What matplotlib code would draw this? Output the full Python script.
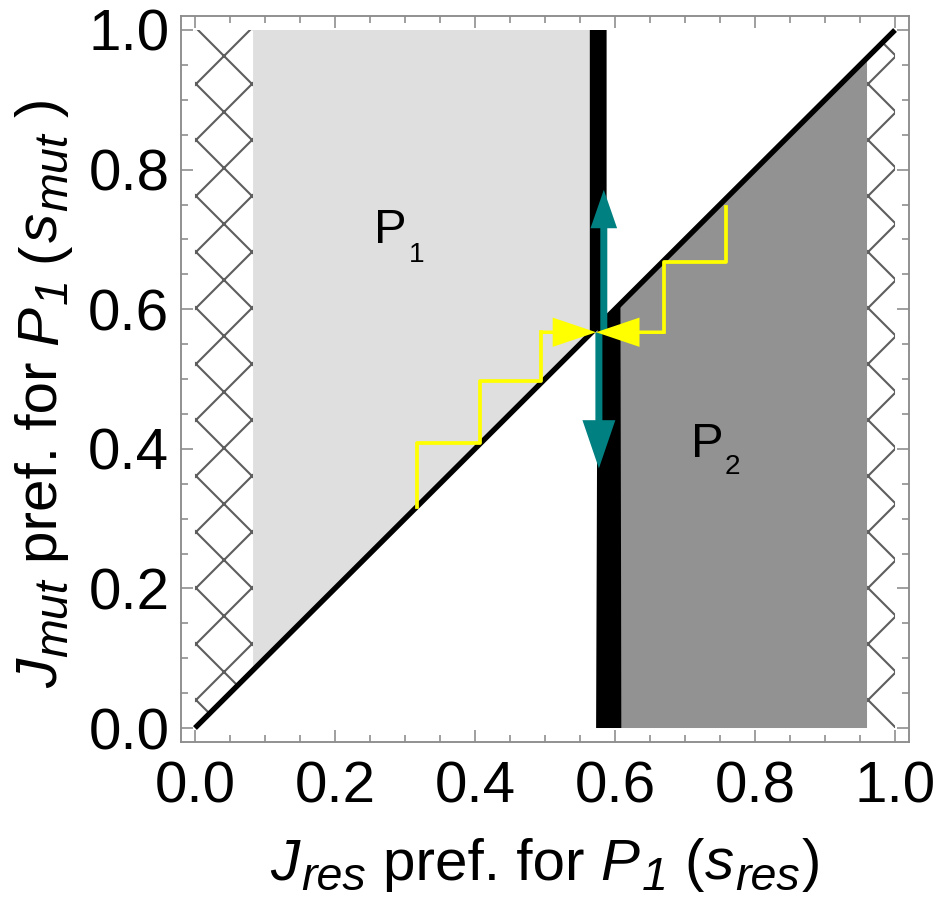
import matplotlib
matplotlib.use("Agg")
import matplotlib.pyplot as plt
import numpy as np

plt.rcParams['font.family'] = ['Liberation Sans', 'DejaVu Sans']
plt.rcParams['hatch.linewidth'] = 0.9

# region boundaries (s_res values)
hatch_left_edge = 0.083
p1_right_edge = 0.564
band_top = [0.564, 0.588]       # black band above diagonal
band_bottom = [0.575, 0.608]    # black band below diagonal
hatch_right_edge = 0.96

# singular point and iteration steps
s_star = 0.573
left_steps_x = [0.317, 0.317, 0.407, 0.407, 0.495, 0.495]
left_steps_y = [0.317, 0.408, 0.408, 0.497, 0.497, 0.567]
right_steps_x = [0.759, 0.759, 0.670, 0.670]
right_steps_y = [0.746, 0.667, 0.667, 0.567]

# evolutionary arrows (teal): (x, y_start, y_tip)
arrow_up = (0.584, 0.567, 0.771)
arrow_down = (0.577, 0.567, 0.372)

tick_vals = [0.0, 0.2, 0.4, 0.6, 0.8, 1.0]
tick_labels = ['0.0', '0.2', '0.4', '0.6', '0.8', '1.0']

light = '#dfdfdf'
dark = '#929292'
teal = '#008080'
frame_col = '#8c8c8c'
hatch_col = '#5e5e5e'

W, H = 942, 901
dpi = 168
fig = plt.figure(figsize=(W / dpi, H / dpi), dpi=dpi)
ax = fig.add_axes([0.1921, 0.1765, 0.7729, 0.8057])


def rich_text(x0, y0, parts, size, rotation=0):
    # parts: (text, italic, scale, drop, gap) -- drop and gap in em units
    renderer = fig.canvas.get_renderer()
    widths = []
    for s, it, sc, drop, gap in parts:
        t = fig.text(0, 0, s, fontsize=size * sc, style='italic' if it else 'normal')
        widths.append(t.get_window_extent(renderer).width)
        t.remove()
    em = size * dpi / 72
    total = sum(widths) + sum(p[4] for p in parts) * em
    ang = np.radians(rotation)
    ux, uy = np.cos(ang), np.sin(ang)
    vx, vy = np.sin(ang), -np.cos(ang)
    pos = -total / 2
    for (s, it, sc, drop, gap), w in zip(parts, widths):
        pos += gap * em
        dx = pos * ux + drop * em * vx
        dy = pos * uy + drop * em * vy
        fig.text((x0 + dx) / W, (y0 + dy) / H, s, fontsize=size * sc,
                 style='italic' if it else 'normal', rotation=rotation,
                 rotation_mode='anchor', ha='left', va='baseline')
        pos += w


# hatched (excluded) regions
ax.fill([0, hatch_left_edge, hatch_left_edge, 0],
        [0, hatch_left_edge, 1, 1],
        facecolor='white', edgecolor=hatch_col, hatch='x', lw=0, zorder=1)
ax.fill([hatch_right_edge, 1, 1, hatch_right_edge],
        [0, 0, 1, hatch_right_edge],
        facecolor='white', edgecolor=hatch_col, hatch='x', lw=0, zorder=1)

# P1 and P2 regions
ax.fill([hatch_left_edge, p1_right_edge, p1_right_edge, hatch_left_edge],
        [hatch_left_edge, p1_right_edge, 1, 1], color=light, lw=0, zorder=1)
ax.fill([band_bottom[1], hatch_right_edge, hatch_right_edge, band_bottom[1]],
        [0, 0, hatch_right_edge, band_bottom[1]], color=dark, lw=0, zorder=1)

# black bands
ax.fill([band_top[0], band_top[1], band_top[1], band_top[0]],
        [band_top[0], band_top[1], 1, 1], color='black', lw=0, zorder=2)
ax.fill([band_bottom[0] - 0.002, band_bottom[1] + 0.001, band_bottom[1], band_bottom[0]],
        [0, 0, band_bottom[1], band_bottom[0]], color='black', lw=0, zorder=2)

# diagonal s_mut = s_res
ax.plot([0, 1], [0, 1], color='black', lw=2.3, solid_capstyle='butt', zorder=3)

# teal arrows
ax.arrow(arrow_up[0], arrow_up[1], 0, arrow_up[2] - arrow_up[1],
         width=0.010, head_width=0.038, head_length=0.055,
         length_includes_head=True, color=teal, lw=0, zorder=4)
ax.arrow(arrow_down[0], arrow_down[1], 0, arrow_down[2] - arrow_down[1],
         width=0.010, head_width=0.047, head_length=0.069,
         length_includes_head=True, color=teal, lw=0, zorder=4)

# yellow staircases with arrowheads
ax.plot(left_steps_x, left_steps_y, color='yellow', lw=1.6, zorder=5)
ax.plot(right_steps_x, right_steps_y, color='yellow', lw=1.6, zorder=5)
ax.arrow(left_steps_x[-1], left_steps_y[-1], s_star - left_steps_x[-1], 0,
         width=0.005, head_width=0.042, head_length=0.062,
         length_includes_head=True, color='yellow', lw=0, zorder=5)
ax.arrow(right_steps_x[-1], right_steps_y[-1], s_star - right_steps_x[-1], 0,
         width=0.005, head_width=0.042, head_length=0.062,
         length_includes_head=True, color='yellow', lw=0, zorder=5)

# region names
ax.text(0.256, 0.695, 'P', fontsize=21, va='baseline', zorder=6)
ax.text(0.306, 0.668, '1', fontsize=12, va='baseline', zorder=6)
ax.text(0.709, 0.388, 'P', fontsize=21, va='baseline', zorder=6)
ax.text(0.757, 0.364, '2', fontsize=12, va='baseline', zorder=6)

ax.set_xlim(-0.02, 1.02)
ax.set_ylim(-0.02, 1.02)
ax.set_xticks(tick_vals)
ax.set_yticks(tick_vals)
ax.set_xticks(np.arange(0, 1.01, 0.05), minor=True)
ax.set_yticks(np.arange(0, 1.01, 0.05), minor=True)
ax.set_xticklabels(tick_labels)
ax.set_yticklabels(tick_labels)
ax.tick_params(which='both', direction='in', top=True, right=True,
               color=frame_col, labelsize=25, width=0.7)
ax.tick_params(axis='x', which='both', pad=8)
ax.tick_params(axis='y', which='both', pad=5)
ax.tick_params(which='major', length=5)
ax.tick_params(which='minor', length=3)
for sp in ax.spines.values():
    sp.set_color(frame_col)
    sp.set_linewidth(0.8)

# axis labels with large subscripts
label_size = 25
xlabel_parts = [('J', True, 1, 0, 0), ('res', True, 0.8, 0.17, 0.03),
                ('pref. for', False, 1, 0, 0.28), ('P', True, 1, 0, 0.28),
                ('1', True, 0.8, 0.17, 0.04), ('(', False, 1, 0, 0.28),
                ('s', True, 1, 0, 0.02), ('res', True, 0.8, 0.17, 0.02),
                (')', False, 1, 0, 0.04)]
ylabel_parts = [('J', True, 1, 0, 0), ('mut', True, 0.8, 0.17, 0.03),
                ('pref. for', False, 1, 0, 0.28), ('P', True, 1, 0, 0.28),
                ('1', True, 0.8, 0.17, 0.04), ('(', False, 1, 0, 0.28),
                ('s', True, 1, 0, 0.02), ('mut', True, 0.8, 0.17, 0.02),
                (')', False, 1, 0, 0.28)]
rich_text(546, 21, xlabel_parts, label_size)
rich_text(57, 508, ylabel_parts, label_size, rotation=90)

fig.savefig('out.png', dpi=dpi)
